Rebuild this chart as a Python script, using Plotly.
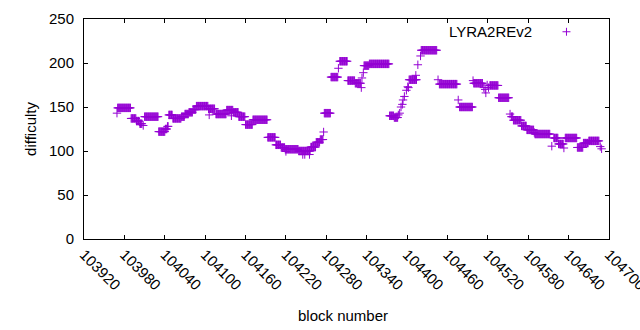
import plotly.graph_objects as go

# Runs of consecutive LYRA2REv2 blocks that share (approximately) the same difficulty
run_first = [103969, 103970, 103990, 103998, 104003, 104008, 104010, 104031, 104041, 104044,
             104046, 104052, 104065, 104070, 104076, 104082, 104087, 104105, 104106, 104116,
             104132, 104139, 104142, 104150, 104160, 104171, 104193, 104205, 104213, 104219,
             104220, 104239, 104245, 104248, 104255, 104257, 104265, 104271, 104276, 104277,
             104287, 104298, 104300, 104312, 104323, 104332, 104333, 104335, 104336, 104344,
             104374, 104381, 104387, 104389, 104391, 104393, 104394, 104396, 104399, 104401,
             104402, 104403, 104413, 104416, 104420, 104421, 104446, 104448, 104476, 104478,
             104498, 104499, 104514, 104516, 104517, 104519, 104521, 104523, 104536, 104553,
             104555, 104558, 104570, 104578, 104589, 104590, 104615, 104618, 104625, 104633,
             104635, 104653, 104662, 104670, 104687, 104689]
run_last = [103969, 103989, 103997, 104002, 104006, 104008, 104030, 104040, 104043, 104045,
            104051, 104064, 104069, 104075, 104081, 104086, 104104, 104114, 104106, 104131,
            104141, 104139, 104149, 104159, 104170, 104192, 104204, 104212, 104218, 104238,
            104220, 104256, 104245, 104248, 104255, 104264, 104270, 104275, 104276, 104286,
            104297, 104298, 104311, 104322, 104331, 104332, 104333, 104335, 104343, 104373,
            104380, 104386, 104387, 104389, 104391, 104393, 104394, 104396, 104399, 104401,
            104402, 104414, 104413, 104416, 104420, 104444, 104446, 104474, 104476, 104497,
            104498, 104512, 104514, 104516, 104517, 104519, 104521, 104535, 104551, 104553,
            104557, 104569, 104577, 104588, 104589, 104612, 104615, 104624, 104632, 104633,
            104652, 104661, 104669, 104685, 104687, 104689]
run_diff = [143, 149, 137, 134, 131, 129, 139, 122, 125, 128,
            141, 137, 139, 142, 144, 147, 151, 148, 141, 142,
            146.5, 140, 144, 139, 130, 135.5, 115.5, 107, 104, 102,
            99.5, 100, 96, 96, 96, 104.5, 110, 113, 121.6, 143,
            184, 194, 202, 180, 177, 172, 183, 189, 197, 199,
            140, 138, 141, 143, 150, 153, 158, 162, 169, 173,
            172, 181, 186, 198, 208, 214.5, 181, 176, 158, 150,
            180, 177, 172, 170, 166, 175, 172, 174.5, 160.5, 142,
            139, 135, 128.5, 124, 121, 119.3, 105.5, 114.8, 108, 103.4,
            114.8, 104, 109, 111.5, 105, 102.5]

x_tick_vals = [103920, 103980, 104040, 104100, 104160, 104220, 104280,
               104340, 104400, 104460, 104520, 104580, 104640, 104700]
y_tick_vals = [0, 50, 100, 150, 200, 250]
series_name = "LYRA2REv2"

blocks, diffs = [], []
for a, b, d in zip(run_first, run_last, run_diff):
    for n in range(a, b + 1):
        blocks.append(n)
        diffs.append(d)

COLOR = "#9400d3"
FONT = "Liberation Sans"

fig = go.Figure()
fig.add_trace(go.Scatter(
    x=blocks, y=diffs, mode="markers", showlegend=False, cliponaxis=False,
    marker=dict(symbol="cross-thin", size=6, color=COLOR,
                line=dict(width=1, color=COLOR)),
))

axis_common = dict(showline=True, linecolor="black", linewidth=1, mirror="ticks",
                   ticks="inside", ticklen=4, tickcolor="black", showgrid=False,
                   zeroline=False, automargin=False, ticklabeloverflow="allow",
                   tickfont=dict(family=FONT, size=15, color="black"))

fig.update_layout(
    width=640, height=330,
    margin=dict(l=84, r=31, t=19, b=91),
    plot_bgcolor="white", paper_bgcolor="white",
    font=dict(family=FONT, size=15, color="black"),
    xaxis=dict(range=[103920, 104700], tickvals=x_tick_vals,
               ticktext=[str(v) for v in x_tick_vals], tickangle=45, **axis_common),
    yaxis=dict(range=[0, 250], tickvals=y_tick_vals,
               ticktext=[str(v) for v in y_tick_vals], ticklabelstandoff=6, **axis_common),
    annotations=[
        dict(text="difficulty", textangle=-90, xref="paper", yref="paper",
             x=-0.103, y=0.5, xanchor="center", yanchor="middle", showarrow=False,
             font=dict(family=FONT, size=15)),
        dict(text="block number", xref="paper", yref="paper",
             x=0.493, y=-0.349, xanchor="center", yanchor="middle", showarrow=False,
             font=dict(family=FONT, size=15)),
        dict(text=series_name, xref="paper", yref="paper",
             x=0.8566, y=0.942, xanchor="right", yanchor="middle", showarrow=False,
             font=dict(family=FONT, size=15)),
    ],
    shapes=[
        dict(type="line", xref="paper", yref="paper", x0=0.919 - 0.0076, x1=0.919 + 0.0076,
             y0=0.942, y1=0.942, line=dict(color=COLOR, width=1)),
        dict(type="line", xref="paper", yref="paper", x0=0.919, x1=0.919,
             y0=0.942 - 0.018, y1=0.942 + 0.018, line=dict(color=COLOR, width=1)),
    ],
)

fig.write_html("out.html", config={"displayModeBar": False},
               post_script="document.body.style.margin='0';")
